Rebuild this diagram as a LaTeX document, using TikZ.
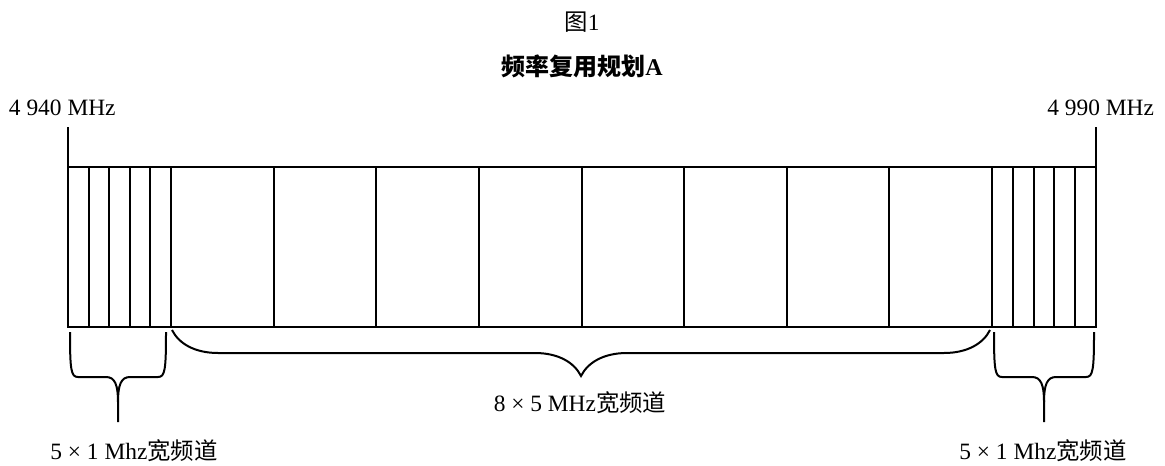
\documentclass[tikz,border=0pt]{standalone}
\usepackage{fontspec}
\setmainfont{Liberation Serif}
\newfontfamily\cjk{Noto Sans CJK SC}
\usetikzlibrary{decorations.pathreplacing}
\begin{document}
\begin{tikzpicture}[x=0.5pt,y=-0.5pt,line width=1pt,
  lbl/.style={inner sep=0pt,font=\fontsize{11.7}{13}\selectfont},
  bigbrace/.style={decorate,decoration={brace,amplitude=23pt}}]
\useasboundingbox (0,0) rectangle (1165,465);
% band 4940 .. 4990
\coordinate (lotop) at (68,127);
\coordinate (lo) at (68,167);
\coordinate (hitop) at (1096,127);
\coordinate (hi) at (1096,327);
\draw (lo) rectangle (hi);
\draw (lotop) -- (lo);
\draw (hitop) -- (hi |- lo);
% channels
\foreach \i in {1,...,5}
  \draw ({68+20.6*\i},167) -- ({68+20.6*\i},327);
\foreach \i in {1,...,7}
  \draw ({171+102.625*\i},167) -- ({171+102.625*\i},327);
\foreach \i in {0,...,4}
  \draw ({992+20.8*\i},167) -- ({992+20.8*\i},327);
% braces
\coordinate (bigr) at (990,330);
\coordinate (bigl) at (172,330);
\draw[bigbrace] (bigr) -- (bigl);
\foreach \a/\b in {70/166,994/1094}{
  \pgfmathsetmacro{\m}{(\a+\b)/2}
  \draw (\a,332) .. controls (\a,370) and ({\a+1},377) .. ({\a+8},377)
    -- ({\m-12},377) .. controls ({\m-3},377) and (\m,385) .. (\m,402) -- (\m,422);
  \draw (\b,332) .. controls (\b,370) and ({\b-1},377) .. ({\b-8},377)
    -- ({\m+12},377) .. controls ({\m+3},377) and (\m,385) .. (\m,402);
}
% texts
\node[lbl] (fig) at (582,22) {{\cjk 图}1};
\node[lbl,font=\fontsize{12}{14}\selectfont\bfseries] (title) at (582,66) {{\cjk\bfseries 频率复用规划}A};
\node[lbl,anchor=west] (flo) at (8,108) {4 940 MHz};
\node[lbl,anchor=east] (fhi) at (1155,108) {4 990 MHz};
\node[lbl] (wide) at (580,403) {8 × 5 MHz{\cjk 宽频道}};
\node[lbl] (narl) at (134,451) {5 × 1 Mhz{\cjk 宽频道}};
\node[lbl] (narr) at (1043,451) {5 × 1 Mhz{\cjk 宽频道}};
\end{tikzpicture}
\end{document}
